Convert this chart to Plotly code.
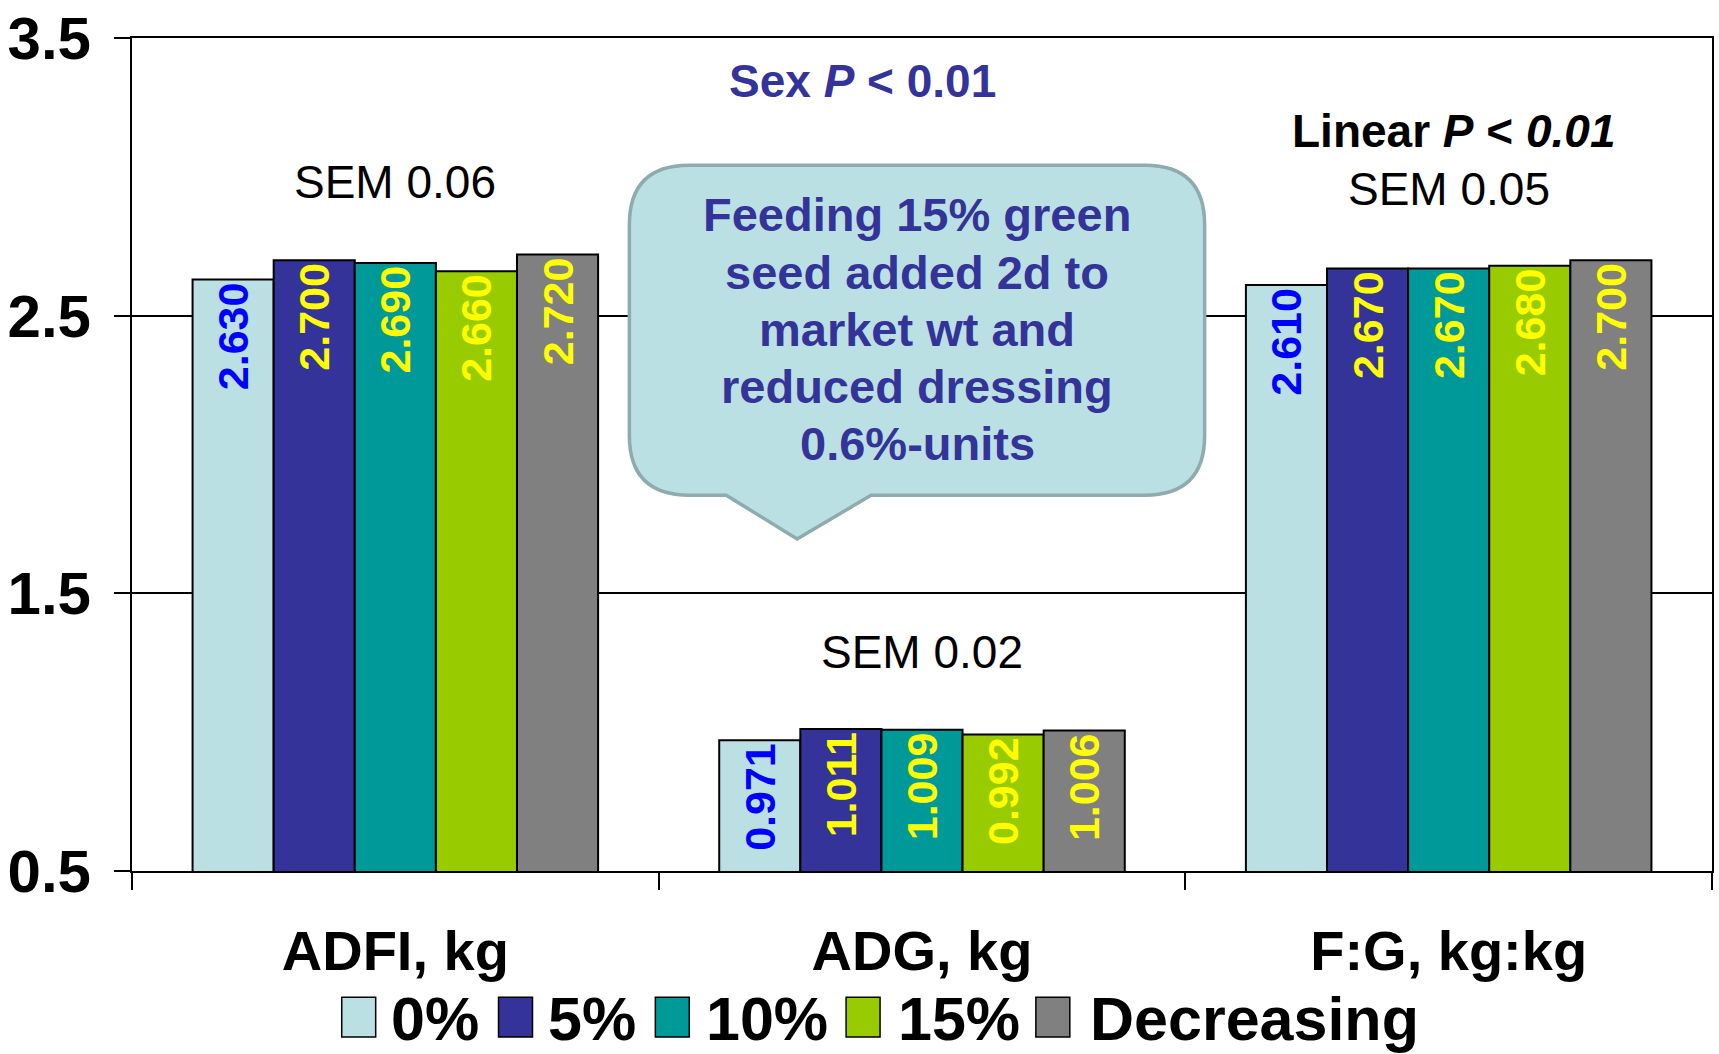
import plotly.graph_objects as go

categories = ["ADFI, kg", "ADG, kg", "F:G, kg:kg"]
series_names = ["0%", "5%", "10%", "15%", "Decreasing"]
val_0 = [2.630, 0.971, 2.610]
val_5 = [2.700, 1.011, 2.670]
val_10 = [2.690, 1.009, 2.670]
val_15 = [2.660, 0.992, 2.680]
val_dec = [2.720, 1.006, 2.700]
series_values = [val_0, val_5, val_10, val_15, val_dec]
y_ticks = [0.5, 1.5, 2.5, 3.5]
sem_labels = ["SEM 0.06", "SEM 0.02", "SEM 0.05"]
sem_y = [2.98, 1.29, 2.955]
callout_lines = ["Feeding 15% green", "seed added 2d to", "market wt and",
                 "reduced dressing", "0.6%-units"]

bar_colors = ["#BBE0E3", "#333399", "#009999", "#99CC00", "#808080"]
label_colors = ["#0000FF", "#FFFF00", "#FFFF00", "#FFFF00", "#FFFF00"]
FONT = "Liberation Sans, Arial, sans-serif"

W, H = 1719, 1054
L, R, T, B = 132, 5, 33, 183
PW, PH = W - L - R, H - T - B


def px(x):
    return (x - L) / PW


def py(y):
    return (H - B - y) / PH


fig = go.Figure()
for name, vals, c, lc in zip(series_names, series_values, bar_colors, label_colors):
    fig.add_trace(go.Bar(
        name=name, x=categories, y=vals,
        marker=dict(color=c, line=dict(color="black", width=2)),
        text=[f"{v:.3f}" for v in vals],
        textposition="inside", insidetextanchor="end", textangle=-90,
        textfont=dict(family=FONT, size=43, color=lc, weight="bold"),
        showlegend=False,
    ))

fig.update_layout(
    width=W, height=H,
    margin=dict(l=L, r=R, t=T, b=B),
    paper_bgcolor="white", plot_bgcolor="white",
    barmode="group", bargap=0.23, bargroupgap=0,
    font=dict(family=FONT, color="black"),
)
fig.update_yaxes(
    range=[0.5, 3.5], tickvals=y_ticks, ticktext=[f"{v:.1f}" for v in y_ticks],
    showgrid=True, gridcolor="black", gridwidth=2, zeroline=False,
    showline=True, linecolor="black", linewidth=2, mirror=True,
    ticks="outside", ticklen=16, tickcolor="black", tickwidth=2,
    tickfont=dict(family=FONT, size=60, color="black", weight="bold"),
    ticklabelstandoff=11,
)
fig.update_xaxes(
    showline=True, linecolor="black", linewidth=2, mirror=True,
    ticks="outside", tickson="boundaries", ticklen=17, tickcolor="black", tickwidth=2,
    tickfont=dict(family=FONT, size=56, color="black", weight="bold"),
    ticklabelstandoff=30,
)

# SEM annotations
for cat, txt, yv in zip(categories, sem_labels, sem_y):
    fig.add_annotation(x=cat, y=yv, xref="x", yref="y", text=txt, showarrow=False,
                       xanchor="center", yanchor="middle",
                       font=dict(family=FONT, size=46, color="black"))

fig.add_annotation(x=px(863), y=py(76), xref="paper", yref="paper",
                   xanchor="center", yanchor="middle",
                   text="Sex <i>P</i> < 0.01", showarrow=False,
                   font=dict(family=FONT, size=46, color="#333399", weight="bold"))
fig.add_annotation(x=px(1455), y=py(127), xref="paper", yref="paper",
                   xanchor="center", yanchor="middle",
                   text="Linear <i>P</i> < <i>0.01</i>", showarrow=False,
                   font=dict(family=FONT, size=46, color="black", weight="bold"))

# callout bubble
x0, x1, y0, y1, r = 630, 1206, 161, 493, 60
bl, br, tx, ty = 727, 872, 798, 537
pts = [
    ("M", (x0 + r, y0)), ("L", (x1 - r, y0)), ("Q", (x1, y0), (x1, y0 + r)),
    ("L", (x1, y1 - r)), ("Q", (x1, y1), (x1 - r, y1)),
    ("L", (br, y1)), ("L", (tx, ty)), ("L", (bl, y1)),
    ("L", (x0 + r, y1)), ("Q", (x0, y1), (x0, y1 - r)),
    ("L", (x0, y0 + r)), ("Q", (x0, y0), (x0 + r, y0)),
]
path = ""
for item in pts:
    cmd = item[0]
    coords = " ".join(f"{px(a):.5f},{py(b):.5f}" for a, b in item[1:])
    path += f"{cmd} {coords} "
path += "Z"
fig.add_shape(type="path", path=path, xref="paper", yref="paper",
              fillcolor="#BBE0E3", line=dict(color="#8EABAE", width=3.5), layer="above")
line_gap = 57.5
for i, ln in enumerate(callout_lines):
    fig.add_annotation(x=px(918), y=py(326 + (i - 2) * line_gap), xref="paper", yref="paper",
                       xanchor="center", yanchor="middle", text=ln, showarrow=False,
                       font=dict(family=FONT, size=47, color="#333399", weight="bold"))

# legend (custom, large swatches)
sw_x = [342, 499, 656, 847, 1037]
txt_x = [389, 547, 705, 897, 1089]
for name, c, sx, tx_ in zip(series_names, bar_colors, sw_x, txt_x):
    fig.add_shape(type="rect", xref="paper", yref="paper",
                  x0=px(sx), x1=px(sx + 34), y0=py(1038), y1=py(998),
                  fillcolor=c, line=dict(color="black", width=1.5))
    fig.add_annotation(x=px(tx_), y=py(1020), xref="paper", yref="paper",
                       xanchor="left", yanchor="middle", text=name,
                       showarrow=False, font=dict(family=FONT, size=61, color="black", weight="bold"))

fig.write_html("out.html", config={"displayModeBar": False},
               post_script="document.body.style.margin='0px';document.body.style.overflow='hidden';")
